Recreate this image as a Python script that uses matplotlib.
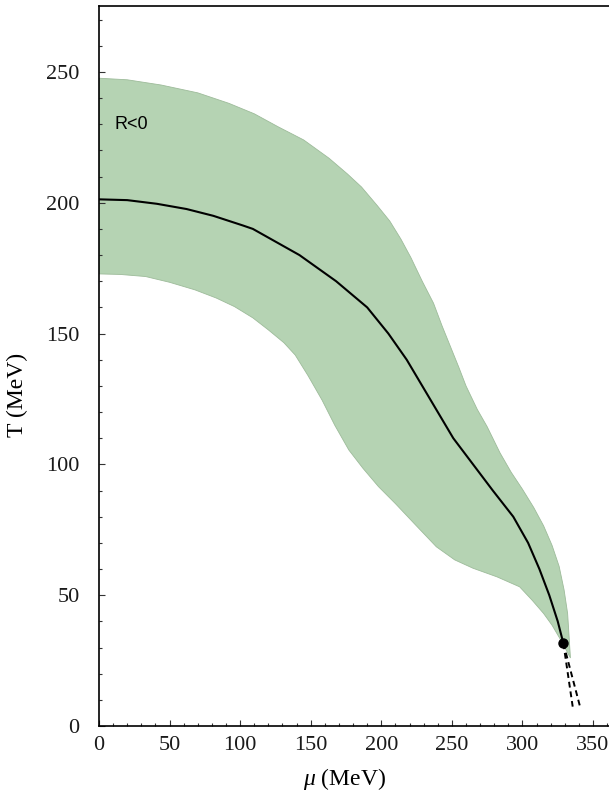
import numpy as np
import matplotlib
matplotlib.use("Agg")
import matplotlib.pyplot as plt
from matplotlib.ticker import MultipleLocator

# ---- data ----
center_mu = [0, 20, 41, 62, 81, 102, 109, 142, 168, 190, 205, 218, 229, 240, 251, 265, 279, 293.5, 304, 312, 319, 325, 329]
center_T  = [201.3, 201, 199.6, 197.6, 195, 191.3, 190, 180, 170, 160, 150, 140, 130, 120, 110, 100, 90, 80, 70, 60, 50, 40, 31.6]

upper_mu = [0, 20, 44, 70, 92, 110, 127, 145, 163, 176, 186, 197, 206, 214, 221, 229, 237, 243, 249, 255, 260, 268, 275, 284, 292, 300, 308, 315, 321, 326, 329.5, 332, 334]
upper_T  = [247.6, 247, 245, 242, 238, 234, 229, 224, 217, 211, 206, 199, 193, 186, 179, 170, 161.6, 153, 145, 137, 130, 121, 114.4, 104.5, 97, 90.5, 83.5, 76.5, 69, 61, 52, 43, 26]

lower_mu = [0, 15, 33, 50, 68, 83, 96, 109, 120, 131, 139, 148, 158, 167, 177, 187, 198, 210, 224, 239, 252, 265, 282, 298, 307, 315, 321, 327, 334]
lower_T  = [172.8, 172.6, 171.8, 169.6, 166.7, 163.6, 160.3, 156, 151.4, 146.5, 141.8, 134, 124.6, 115, 105.5, 98.5, 91.5, 85, 77, 68.5, 63.5, 60.3, 57, 53.2, 48, 43, 38.5, 33, 26]

cep_mu, cep_T = 329, 31.6
dash1_mu = [329, 335.6]
dash1_T = [31.6, 7.4]
dash2_mu = [329, 340.8]
dash2_T = [31.6, 7.4]

# ---- figure ----
plt.rcParams['mathtext.fontset'] = 'custom'
plt.rcParams['mathtext.it'] = 'Liberation Serif:italic'
plt.rcParams['mathtext.rm'] = 'Liberation Serif'

fig = plt.figure(figsize=(6.09, 7.98), dpi=100)
ax = fig.add_axes([99/609, 72/798, 564.6/609, 720/798])

band_x = np.concatenate([upper_mu, lower_mu[::-1]])
band_y = np.concatenate([upper_T, lower_T[::-1]])
ax.fill(band_x, band_y, facecolor='#b5d3b3', edgecolor='#9dbb9a', linewidth=0.6, zorder=1)

ax.plot(center_mu, center_T, color='black', lw=1.5, zorder=3)
ax.plot(dash1_mu, dash1_T, color='black', lw=1.4, ls=(0, (3, 2)), zorder=3)
ax.plot(dash2_mu, dash2_T, color='black', lw=1.4, ls=(0, (3, 2)), zorder=3)
ax.plot([cep_mu], [cep_T], 'o', color='black', ms=6.5, zorder=4)

ax.text(11.3, 230, 'R<0', family='Liberation Sans', fontsize=13, ha='left', va='center', zorder=5)

ax.set_xlim(0, 400)
ax.set_ylim(0, 275.2)

ax.xaxis.set_major_locator(MultipleLocator(50))
ax.xaxis.set_minor_locator(MultipleLocator(10))
ax.yaxis.set_major_locator(MultipleLocator(50))
ax.yaxis.set_minor_locator(MultipleLocator(10))
ax.set_xticks([0, 50, 100, 150, 200, 250, 300, 350])
ax.set_xticklabels(['0', '50', '100', '150', '200', '250', '300', '350'])

ax.tick_params(which='both', direction='in', top=False, right=False, width=0.8, color='#333333')
ax.tick_params(which='major', length=4)
ax.tick_params(which='minor', length=2.2)
ax.tick_params(axis='x', which='major', pad=7)
ax.tick_params(axis='y', which='major', pad=14)
for lab in ax.get_xticklabels() + ax.get_yticklabels():
    lab.set_family('Liberation Serif')
    lab.set_fontsize(16)
    lab.set_color('#1a1a1a')

ax.spines['right'].set_visible(False)
for s in ['left', 'bottom', 'top']:
    ax.spines[s].set_linewidth(1.2)

fig.text(17/609, 1 - 395/798, 'T (MeV)', rotation=90, ha='center', va='center',
         family='Liberation Serif', fontsize=17)
fig.text(345/609, 1 - 779/798, r'$\mu$ (MeV)', ha='center', va='center',
         family='Liberation Serif', fontsize=17)

fig.savefig('out.png', dpi=100)
